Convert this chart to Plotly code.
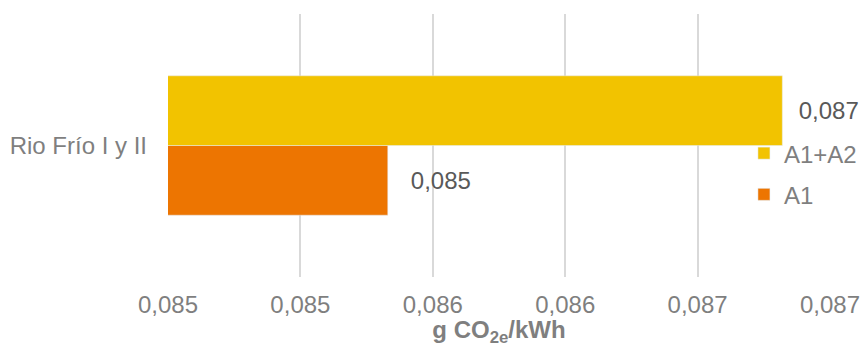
import plotly.graph_objects as go

# data
categories = ["Rio Frío I y II"]
a1 = [0.08543]
a1_a2 = [0.08692]

gray = "#7f7f7f"
font = "Liberation Sans, Arial, sans-serif"
fs = 24

fig = go.Figure()

# first trace is drawn at the bottom of the group
fig.add_trace(go.Bar(
    y=categories, x=a1, name="A1", orientation="h",
    marker_color="#ED7501", legendgroup="a1", legendrank=2,
    texttemplate="\u00a0\u00a0\u00a0%{x:.3f}", textposition="outside",
    textfont=dict(size=fs, color="#595959"), constraintext="none",
    cliponaxis=False,
))
fig.add_trace(go.Bar(
    y=categories, x=a1_a2, name="A1+A2", orientation="h",
    marker_color="#F2C300", legendgroup="a1a2", legendrank=1,
    texttemplate="\u00a0\u00a0%{x:.3f}", textposition="outside",
    textfont=dict(size=fs, color="#595959"), constraintext="none",
    cliponaxis=False,
))

fig.update_layout(
    width=861, height=347,
    margin=dict(l=168, r=31, t=14, b=70, autoexpand=False),
    paper_bgcolor="white", plot_bgcolor="white",
    font=dict(family=font, size=fs, color=gray),
    separators=",.",
    barmode="group", bargap=0.47,
    showlegend=True,
    legend=dict(
        x=0.87, y=0.555, xanchor="left", yanchor="top",
        traceorder="grouped", tracegroupgap=7,
        bgcolor="rgba(0,0,0,0)", font=dict(size=fs, color=gray),
    ),
    xaxis=dict(
        range=[0.0846, 0.0871], tick0=0.0846, dtick=0.0005,
        tickformat=".3f", showgrid=True, gridcolor="#d9d9d9", gridwidth=1.5,
        zeroline=False, showline=False, ticks="", ticklabelstandoff=11,
        tickfont=dict(size=fs, color=gray), automargin=False,
        title=dict(text="<b>g CO<sub>2e</sub>/kWh</b>", standoff=0,
                   font=dict(size=fs, color=gray)),
    ),
    yaxis=dict(
        showgrid=False, zeroline=False, showline=False, ticks="",
        ticklabelstandoff=20, tickfont=dict(size=fs, color=gray),
        automargin=False,
    ),
)

# drop the browser's default body margin, no modebar
fig.write_html("out.html", config={"displayModeBar": False},
               post_script="document.body.style.margin='0';")
